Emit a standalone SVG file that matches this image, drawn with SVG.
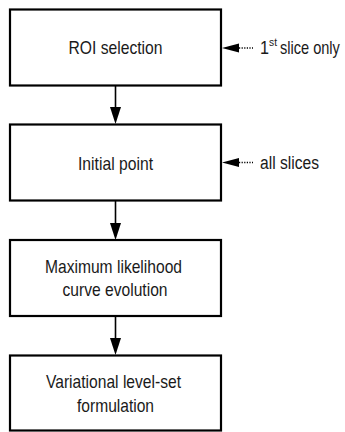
<svg xmlns="http://www.w3.org/2000/svg" width="345" height="432" viewBox="0 0 345 432">
<style>
.box{fill:#fff;stroke:#000;stroke-width:2.2}
.t{font-family:"Liberation Sans",Arial,sans-serif;font-size:18.5px;fill:#1a1a1a;text-anchor:middle}
.s{font-family:"Liberation Sans",Arial,sans-serif;font-size:18px;fill:#1a1a1a}
.sup{font-family:"Liberation Sans",Arial,sans-serif;font-size:10px;fill:#1a1a1a}
.ln{stroke:#000;stroke-width:1.6;fill:none}
.dot{stroke:#000;stroke-width:1.4;stroke-dasharray:1.2 1.4;fill:none}
.hd{fill:#000}
</style>
<rect width="345" height="432" fill="#fff"/>
<g id="connectors">
<line class="ln" x1="115.5" y1="86" x2="115.5" y2="110"/>
<polygon class="hd" points="110,107 121,107 115.5,124"/>
<line class="ln" x1="115.5" y1="201" x2="115.5" y2="226"/>
<polygon class="hd" points="110,223 121,223 115.5,240"/>
<line class="ln" x1="115.5" y1="317" x2="115.5" y2="341"/>
<polygon class="hd" points="110,338 121,338 115.5,355"/>
<polygon class="hd" points="222,48 239,43.5 239,52.5"/>
<line class="dot" x1="239" y1="48" x2="253" y2="48"/>
<polygon class="hd" points="222,162.5 239,158 239,167"/>
<line class="dot" x1="239" y1="162.5" x2="253" y2="162.5"/>
</g>
<g id="roi">
<rect class="box" x="10" y="9.5" width="211" height="76"/>
<text class="t" x="115.5" y="54" textLength="94" lengthAdjust="spacingAndGlyphs">ROI selection</text>
</g>
<g id="init">
<rect class="box" x="10" y="124.5" width="211" height="76"/>
<text class="t" x="115.5" y="169.5" textLength="75" lengthAdjust="spacingAndGlyphs">Initial point</text>
</g>
<g id="ml">
<rect class="box" x="10" y="240" width="211" height="76"/>
<text class="t" x="113.5" y="272.5" textLength="137" lengthAdjust="spacingAndGlyphs">Maximum likelihood</text>
<text class="t" x="115" y="295.5" textLength="105" lengthAdjust="spacingAndGlyphs">curve evolution</text>
</g>
<g id="vls">
<rect class="box" x="10" y="355.5" width="211" height="75"/>
<text class="t" x="113.5" y="388" textLength="135" lengthAdjust="spacingAndGlyphs">Variational level-set</text>
<text class="t" x="115.5" y="411.5" textLength="77" lengthAdjust="spacingAndGlyphs">formulation</text>
</g>
<g id="label-first">
<text class="s" x="260" y="54" textLength="9" lengthAdjust="spacingAndGlyphs">1</text>
<text class="sup" x="269" y="46" textLength="8" lengthAdjust="spacingAndGlyphs">st</text>
<text class="s" transform="translate(280,54) scale(0.81,1)" x="0" y="0">slice only</text>
</g>
<g id="label-all">
<text class="s" x="260" y="169" textLength="59" lengthAdjust="spacingAndGlyphs">all slices</text>
</g>
</svg>
